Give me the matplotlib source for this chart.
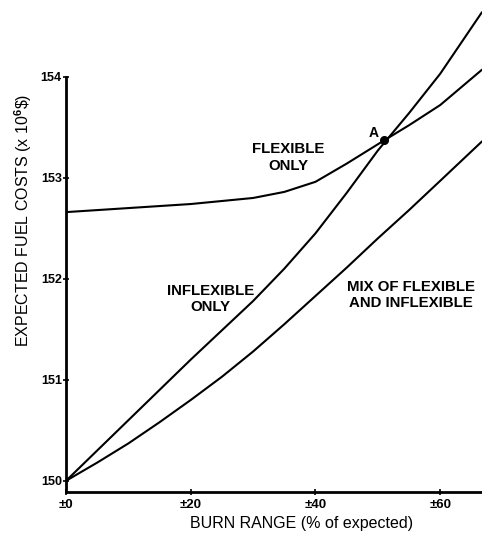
import matplotlib
matplotlib.use('Agg')
import matplotlib.pyplot as plt

plt.rcParams['font.family'] = ['Liberation Sans', 'DejaVu Sans']
plt.rcParams['mathtext.fontset'] = 'custom'
plt.rcParams['mathtext.rm'] = 'Liberation Sans'
plt.rcParams['mathtext.bf'] = 'Liberation Sans:bold'

# # # # # # # # # # # # #    DATA    # # # # # # # # # # # # #

# burn range (% of expected) where values were read
burn = [0, 5, 10, 15, 20, 25, 30, 35, 40, 45, 50, 55, 60, 66.7]

# expected fuel costs (x 10^6 $)
inflexible = [150.0, 150.3, 150.6, 150.9, 151.2, 151.49, 151.78, 152.1,
              152.45, 152.85, 153.27, 153.64, 154.03, 154.64]
mix = [150.0, 150.18, 150.37, 150.58, 150.8, 151.03, 151.28, 151.55,
       151.83, 152.11, 152.4, 152.68, 152.97, 153.36]
flexible_x = [0, 5, 10, 15, 20, 25, 30, 35, 40, 45, 51, 55, 60, 66.7]
flexible = [152.66, 152.68, 152.70, 152.72, 152.74, 152.77, 152.8, 152.86,
            152.96, 153.14, 153.37, 153.52, 153.72, 154.07]

point_a = (51, 153.37)

xticks = [0, 20, 40, 60]
xtick_labels = ['\u00b10', '\u00b120', '\u00b140', '\u00b160']
yticks = [150, 151, 152, 153, 154]

# # # # # # # # # # # # #    GRAPH    # # # # # # # # # # # # #

fig = plt.figure(figsize=(4.82, 5.37), dpi=100)
ax = fig.add_axes([0.137, 0.084, 0.863, 0.916])

lw = 1.5
ax.plot(burn, inflexible, color='black', lw=lw, solid_capstyle='round')
ax.plot(burn, mix, color='black', lw=lw, solid_capstyle='round')
ax.plot(flexible_x, flexible, color='black', lw=lw, solid_capstyle='round')
ax.plot([point_a[0]], [point_a[1]], 'o', color='black', ms=5.5)

ax.set_xlim(0, 66.7)
ax.set_ylim(149.89, 154.76)

# axes look
for s in ['top', 'right']:
    ax.spines[s].set_visible(False)
ax.spines['left'].set_linewidth(2)
ax.spines['bottom'].set_linewidth(2)
ax.spines['left'].set_bounds(149.89, 154.0)

ax.set_xticks(xticks)
ax.set_xticklabels(xtick_labels)
ax.set_yticks(yticks)
ax.tick_params(axis='both', direction='inout', length=4, width=1.2,
               labelsize=9)
ax.tick_params(axis='x', pad=3, labelsize=9.5)
ax.tick_params(axis='y', pad=1)
for lab in ax.get_xticklabels() + ax.get_yticklabels():
    lab.set_fontweight('bold')

# labels
fig.text(0.625, 0.026, 'BURN RANGE (% of expected)', ha='center',
         va='center', fontsize=11.5)
fig.text(0.048, 0.59, 'EXPECTED FUEL COSTS (x 10$^{\\mathbf{6}}$\\$)',
         rotation=90, ha='center', va='center', fontsize=11.5)

# curve annotations
ax.text(35.7, 153.20, 'FLEXIBLE\nONLY', ha='center', va='center',
        fontsize=10.8, fontweight='bold', linespacing=1.2)
ax.text(23.2, 151.80, 'INFLEXIBLE\nONLY', ha='center', va='center',
        fontsize=10.8, fontweight='bold', linespacing=1.2)
ax.text(55.3, 151.84, 'MIX OF FLEXIBLE\nAND INFLEXIBLE', ha='center',
        va='center', fontsize=10.8, fontweight='bold', linespacing=1.2)
ax.text(49.3, 153.44, 'A', ha='center', va='center', fontsize=10,
        fontweight='bold')

fig.savefig('out.png', dpi=100)
